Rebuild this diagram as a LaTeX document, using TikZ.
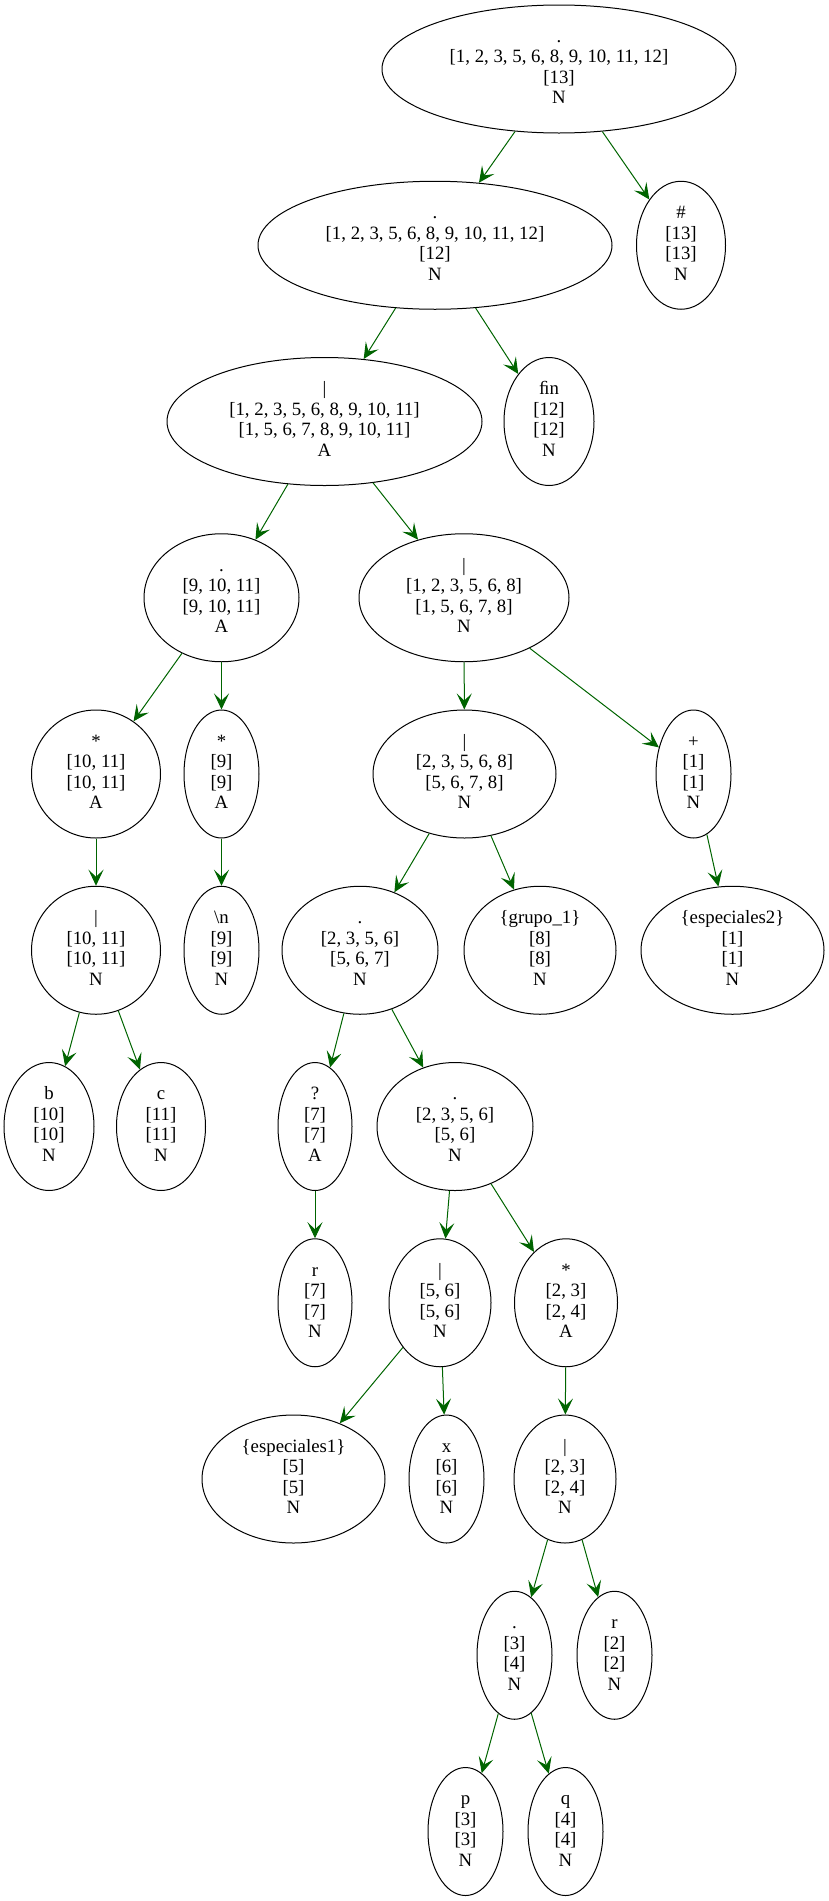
\documentclass[tikz,border=0pt]{standalone}
\usepackage{fontspec}
\setmainfont{Liberation Serif}
\usetikzlibrary{shapes.geometric,arrows.meta}
\definecolor{arrowgreen}{RGB}{0,100,0}
\newcommand{\ntx}[4]{\strut#1\\\relax#2\\\relax#3\\\relax#4\strut}
\tikzset{
  tn/.style={draw=black, ellipse, line width=1pt, inner sep=0pt, minimum height=128pt, align=center, font=\fontsize{18.8}{20.5}\selectfont},
  arr/.style={draw=arrowgreen, line width=1pt, -{Stealth[length=16pt,width=15pt,inset=7pt,fill=arrowgreen]}}
}
\begin{document}
\begin{tikzpicture}[x=1pt,y=-1pt]
\useasboundingbox (0,0) rectangle (829,1901);
\def\rk#1{69+#1*176.25}
\node[tn, minimum width=354pt] (n0) at (559,{\rk{0}}) {\ntx{.}{[1, 2, 3, 5, 6, 8, 9, 10, 11, 12]}{[13]}{N}};
\node[tn, minimum width=354pt] (n1) at (435,{\rk{1}}) {\ntx{.}{[1, 2, 3, 5, 6, 8, 9, 10, 11, 12]}{[12]}{N}};
\node[tn, minimum width=89pt] (n2) at (681,{\rk{1}}) {\ntx{\#}{[13]}{[13]}{N}};
\node[tn, minimum width=315pt] (n3) at (324.5,{\rk{2}}) {\ntx{|}{[1, 2, 3, 5, 6, 8, 9, 10, 11]}{[1, 5, 6, 7, 8, 9, 10, 11]}{A}};
\node[tn, minimum width=90pt] (n4) at (549,{\rk{2}}) {\ntx{ﬁn}{[12]}{[12]}{N}};
\node[tn, minimum width=155pt] (n5) at (221.5,{\rk{3}}) {\ntx{.}{[9, 10, 11]}{[9, 10, 11]}{A}};
\node[tn, minimum width=210pt] (n6) at (464,{\rk{3}}) {\ntx{|}{[1, 2, 3, 5, 6, 8]}{[1, 5, 6, 7, 8]}{N}};
\node[tn, minimum width=129pt] (n7) at (96,{\rk{4}}) {\ntx{*}{[10, 11]}{[10, 11]}{A}};
\node[tn, minimum width=75pt] (n8) at (221.5,{\rk{4}}) {\ntx{*}{[9]}{[9]}{A}};
\node[tn, minimum width=183pt] (n9) at (464.5,{\rk{4}}) {\ntx{|}{[2, 3, 5, 6, 8]}{[5, 6, 7, 8]}{N}};
\node[tn, minimum width=75pt] (n10) at (693.5,{\rk{4}}) {\ntx{+}{[1]}{[1]}{N}};
\node[tn, minimum width=129pt] (n11) at (96,{\rk{5}}) {\ntx{|}{[10, 11]}{[10, 11]}{N}};
\node[tn, minimum width=75pt] (n12) at (221.5,{\rk{5}}) {\ntx{\textbackslash n}{[9]}{[9]}{N}};
\node[tn, minimum width=156pt] (n13) at (360,{\rk{5}}) {\ntx{.}{[2, 3, 5, 6]}{[5, 6, 7]}{N}};
\node[tn, minimum width=152pt] (n14) at (540,{\rk{5}}) {\ntx{\{grupo\_1\}}{[8]}{[8]}{N}};
\node[tn, minimum width=183pt] (n15) at (732.5,{\rk{5}}) {\ntx{\{especiales2\}}{[1]}{[1]}{N}};
\node[tn, minimum width=90pt] (n16) at (49,{\rk{6}}) {\ntx{b}{[10]}{[10]}{N}};
\node[tn, minimum width=89pt] (n17) at (161,{\rk{6}}) {\ntx{c}{[11]}{[11]}{N}};
\node[tn, minimum width=74pt] (n18) at (315,{\rk{6}}) {\ntx{?}{[7]}{[7]}{A}};
\node[tn, minimum width=156pt] (n19) at (455,{\rk{6}}) {\ntx{.}{[2, 3, 5, 6]}{[5, 6]}{N}};
\node[tn, minimum width=74pt] (n20) at (315,{\rk{7}}) {\ntx{r}{[7]}{[7]}{N}};
\node[tn, minimum width=102pt] (n21) at (440,{\rk{7}}) {\ntx{|}{[5, 6]}{[5, 6]}{N}};
\node[tn, minimum width=103pt] (n22) at (566,{\rk{7}}) {\ntx{*}{[2, 3]}{[2, 4]}{A}};
\node[tn, minimum width=183pt] (n23) at (293.5,{\rk{8}}) {\ntx{\{especiales1\}}{[5]}{[5]}{N}};
\node[tn, minimum width=75pt] (n24) at (446.5,{\rk{8}}) {\ntx{x}{[6]}{[6]}{N}};
\node[tn, minimum width=102pt] (n25) at (565,{\rk{8}}) {\ntx{|}{[2, 3]}{[2, 4]}{N}};
\node[tn, minimum width=75pt] (n26) at (514.5,{\rk{9}}) {\ntx{.}{[3]}{[4]}{N}};
\node[tn, minimum width=75pt] (n27) at (614.5,{\rk{9}}) {\ntx{r}{[2]}{[2]}{N}};
\node[tn, minimum width=75pt] (n28) at (465.5,{\rk{10}}) {\ntx{p}{[3]}{[3]}{N}};
\node[tn, minimum width=75pt] (n29) at (565.5,{\rk{10}}) {\ntx{q}{[4]}{[4]}{N}};
\foreach \a/\b in {n0/n1,n0/n2,n1/n3,n1/n4,n3/n5,n3/n6,n5/n7,n5/n8,n6/n9,n6/n10,n7/n11,n8/n12,n9/n13,n9/n14,n10/n15,n11/n16,n11/n17,n13/n18,n13/n19,n18/n20,n19/n21,n19/n22,n21/n23,n21/n24,n22/n25,n25/n26,n25/n27,n26/n28,n26/n29}
  \draw[arr] (\a) -- (\b);
\end{tikzpicture}
\end{document}
